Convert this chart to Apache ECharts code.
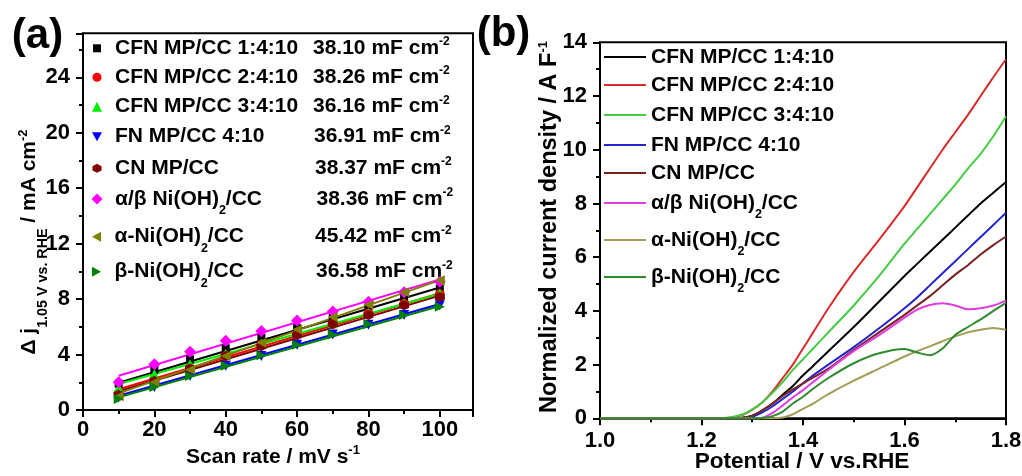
<!DOCTYPE html>
<html lang="en" style="height: 100%">
<head>
<meta charset="utf-8">
<title>Cdl fits and normalized LSV curves</title>
</head>
<body style="height: 100%; margin: 0; background: #fff">
<div id="container" style="width: 1022px; height: 476px"></div>

<script type="text/javascript" src="https://cdn.jsdelivr.net/npm/echarts@6/dist/echarts.min.js"></script>

<script type="text/javascript">

var FONT = '"Liberation Sans", Arial, sans-serif';

// ---- data ----
var sampleNames = ['CFN MP/CC 1:4:10', 'CFN MP/CC 2:4:10', 'CFN MP/CC 3:4:10', 'FN MP/CC 4:10',
    'CN MP/CC', 'α/β Ni(OH)2/CC', 'α-Ni(OH)2/CC', 'β-Ni(OH)2/CC'];
var capacitance = ['38.10', '38.26', '36.16', '36.91', '38.37', '38.36', '45.42', '36.58'];

// panel (a): delta j at 1.05 V vs scan rate
var scanRate = [10, 20, 30, 40, 50, 60, 70, 80, 90, 100];
var djCFN1 = [1.9, 2.9, 3.65, 4.45, 5.2, 5.9, 6.65, 7.4, 8.1, 8.75];
var djCFN2 = [1.2, 2.2, 3.0, 3.9, 4.7, 5.45, 6.2, 6.95, 7.65, 8.35];
var djCFN3 = [1.6, 2.6, 3.3, 4.05, 4.8, 5.55, 6.25, 7.0, 7.7, 8.4];
var djFN = [0.9, 1.65, 2.45, 3.2, 3.9, 4.7, 5.45, 6.15, 6.85, 7.55];
var djCN = [1.1, 2.1, 3.0, 3.9, 4.6, 5.4, 6.2, 6.85, 7.55, 8.15];
var djAB = [2.0, 3.3, 4.2, 5.0, 5.7, 6.45, 7.1, 7.8, 8.5, 9.25];
var djA = [1.0, 2.0, 2.9, 3.9, 4.85, 5.8, 6.7, 7.6, 8.5, 9.35];
var djB = [0.8, 1.65, 2.45, 3.2, 3.95, 4.7, 5.45, 6.2, 6.85, 7.45];
// linear fit read at 10 and 100 mV/s
var fitAt10 = [1.97, 1.5, 1.87, 1.03, 1.35, 2.47, 1.2, 0.91];
var fitAt100 = [8.84, 8.42, 8.38, 7.64, 8.25, 9.42, 9.37, 7.5];

// panel (b): normalized current density vs potential
var potential = [1.0, 1.1, 1.2, 1.25, 1.28, 1.30, 1.32, 1.34, 1.36, 1.38, 1.40, 1.42,
    1.45, 1.50, 1.55, 1.60, 1.625, 1.65, 1.675, 1.70, 1.725, 1.75, 1.775, 1.80];
var jCFN1 = [0, 0, 0, 0, 0.02, 0.1, 0.3, 0.55, 0.88, 1.2, 1.6, 1.95, 2.5, 3.4, 4.35, 5.3, 5.75, 6.2, 6.65, 7.1, 7.55, 8.0, 8.4, 8.8];
var jCFN2 = [0, 0, 0, 0.01, 0.12, 0.32, 0.6, 1.0, 1.5, 2.0, 2.6, 3.2, 4.1, 5.45, 6.65, 7.9, 8.6, 9.3, 10.0, 10.65, 11.3, 12.0, 12.7, 13.37];
var jCFN3 = [0, 0, 0, 0.02, 0.14, 0.33, 0.6, 0.95, 1.35, 1.8, 2.2, 2.6, 3.2, 4.2, 5.3, 6.5, 7.05, 7.6, 8.15, 8.7, 9.3, 9.85, 10.5, 11.25];
var jFN = [0, 0, 0, 0, 0.01, 0.06, 0.22, 0.45, 0.72, 1.0, 1.3, 1.6, 2.0, 2.65, 3.35, 4.1, 4.5, 4.95, 5.4, 5.85, 6.3, 6.75, 7.2, 7.65];
var jCN = [0, 0, 0, 0, 0.02, 0.1, 0.3, 0.55, 0.83, 1.08, 1.3, 1.52, 1.85, 2.55, 3.2, 3.85, 4.2, 4.55, 4.95, 5.35, 5.7, 6.1, 6.45, 6.77];
var jAB = [0, 0, 0, 0, 0, 0, 0.02, 0.2, 0.48, 0.78, 1.05, 1.35, 1.8, 2.5, 3.1, 3.75, 4.05, 4.22, 4.28, 4.2, 4.06, 4.1, 4.2, 4.38];
var jA = [0, 0, 0, 0, 0, 0, 0, 0, 0.03, 0.15, 0.35, 0.55, 0.9, 1.4, 1.85, 2.3, 2.5, 2.68, 2.87, 3.05, 3.2, 3.3, 3.36, 3.3];
var jB = [0, 0, 0, 0, 0, 0, 0.01, 0.08, 0.25, 0.55, 0.8, 1.1, 1.5, 2.05, 2.42, 2.58, 2.45, 2.35, 2.6, 3.1, 3.4, 3.68, 4.0, 4.3];

var djAll = [djCFN1, djCFN2, djCFN3, djFN, djCN, djAB, djA, djB];
var jAll = [jCFN1, jCFN2, jCFN3, jFN, jCN, jAB, jA, jB];

// ---- styles ----
var markerColors = ['#000000', '#ff0000', '#00ee00', '#0000ff', '#800000', '#ff00ff', '#808000', '#008000'];
var lsvColors = ['#000000', '#d82c2c', '#44cc44', '#2424cc', '#7a2222', '#e03ce0', '#a39d58', '#2e8b2e'];
var markers = ['rect', 'circle', 'triangle', 'path://M0,0L10,0L5,9Z',
    'path://M5,0L10,2.6L10,7.4L5,10L0,7.4L0,2.6Z', 'diamond',
    'path://M9,0L9,10L0,5Z', 'path://M0,0L9,5L0,10Z'];
var markerSizes = [8, 10, 10, 10, 10, 12, 10, 10];
var legendIconSizes = [8, 9, 10, 10, 9, 11, 10, 10];
var rowsA = [48.3, 77.3, 106.7, 136.7, 168.3, 199, 236.7, 271.7];
var capX = [313, 313, 313, 314, 315, 316.5, 315, 316];
var rowsB = [57, 85, 115, 145, 173, 203, 240, 277];

var dom = document.getElementById('container');
var myChart = echarts.init(dom, null, { width: 1022, height: 476 });

function subName(name) {
    return name.replace(')2', '){s|2}');
}

function legendTextStyle(size) {
    return {
        fontFamily: FONT, fontWeight: 'bold', fontSize: size, color: '#000', lineHeight: 26,
        rich: {
            s: { fontFamily: FONT, fontWeight: 'bold', fontSize: 12.5, color: '#000', padding: [24, 0, 0, 0] },
            g: { width: 1 }
        }
    };
}

function titleText(x, y, text, size, rot) {
    return {
        type: 'text', x: x, y: y, rotation: rot || 0, silent: true,
        style: {
            text: text, fill: '#000', fontFamily: FONT, fontWeight: 'bold', fontSize: size,
            lineHeight: 30, align: 'center', verticalAlign: 'middle',
            rich: {
                m: { fill: '#000', fontFamily: FONT, fontWeight: 'bold', fontSize: size },
                s: { fill: '#000', fontFamily: FONT, fontWeight: 'bold', fontSize: 14.3, padding: [28, 0, 0, 0] },
                p: { fill: '#000', fontFamily: FONT, fontWeight: 'bold', fontSize: 13, padding: [0, 0, 13, 0] }
            }
        }
    };
}

function axisCommon(fontSize, margin) {
    return {
        axisLine: { show: true, onZero: false, lineStyle: { color: '#000', width: 2 } },
        axisTick: { show: true, length: 7, lineStyle: { color: '#000', width: 2 } },
        minorTick: { show: true, splitNumber: 2, length: 4, lineStyle: { color: '#000', width: 2 } },
        splitLine: { show: false },
        minorSplitLine: { show: false },
        axisLabel: { fontFamily: FONT, fontWeight: 'bold', fontSize: fontSize, color: '#000', margin: margin }
    };
}

var xA = Object.assign(axisCommon(22, 9), { gridIndex: 0, type: 'value', min: 0, max: 109.3, interval: 20 });
xA.axisLabel.formatter = function (v) { return v % 20 === 0 ? String(v) : ''; };
var yA = Object.assign(axisCommon(22, 13), { gridIndex: 0, type: 'value', min: 0, max: 27.17, interval: 4 });
yA.axisLabel.formatter = function (v) { return v % 4 === 0 ? String(v) : ''; };
var xB = Object.assign(axisCommon(22, 12), { gridIndex: 1, type: 'value', min: 1.0, max: 1.8, interval: 0.2 });
xB.axisLabel.formatter = function (v) { return v.toFixed(1); };
var yB = Object.assign(axisCommon(22, 13), { gridIndex: 1, type: 'value', min: 0, max: 14, interval: 2 });

var series = [];
var legends = [];
var graphics = [];

sampleNames.forEach(function (name, i) {
    series.push({
        name: 'fit ' + name, type: 'line', xAxisIndex: 0, yAxisIndex: 0,
        data: [[scanRate[0], fitAt10[i]], [scanRate[scanRate.length - 1], fitAt100[i]]],
        symbol: 'none', z: 2, silent: true,
        lineStyle: { color: markerColors[i], width: 2 }
    });
});
sampleNames.forEach(function (name, i) {
    series.push({
        name: name, type: 'scatter', xAxisIndex: 0, yAxisIndex: 0,
        data: scanRate.map(function (x, k) { return [x, djAll[i][k]]; }),
        symbol: markers[i], symbolSize: markerSizes[i], z: 3,
        itemStyle: { color: markerColors[i], opacity: 1 }
    });
    series.push({
        name: 'LSV ' + name, type: 'line', xAxisIndex: 1, yAxisIndex: 1,
        data: potential.map(function (v, k) { return [v, jAll[i][k]]; }),
        symbol: 'none', smooth: 0.25, clip: false, z: 3,
        lineStyle: { color: lsvColors[i], width: 2 },
        itemStyle: { color: lsvColors[i] }
    });

    // square icon box so markers keep their shape; the empty token pushes the text right
    var s = legendIconSizes[i];
    legends.push({
        data: [name], left: 97 - s / 2, top: rowsA[i] - 13, padding: 0, orient: 'horizontal',
        itemWidth: s, itemHeight: s, selectedMode: false, symbolKeepAspect: true,
        textStyle: legendTextStyle(21),
        formatter: function (n) { return '{g|}' + subName(n); }
    });
    legends[legends.length - 1].textStyle.rich.g.width = 115 - (97 + s / 2 + 5);
    legends.push({
        data: ['LSV ' + name], left: 604, top: rowsB[i] - 13, padding: 0, orient: 'horizontal',
        icon: 'rect', itemWidth: 42, itemHeight: 2, selectedMode: false,
        textStyle: legendTextStyle(21),
        formatter: function (n) { return subName(n.slice(4)); }
    });

    graphics.push({
        type: 'text', x: capX[i], y: rowsA[i], silent: true,
        style: {
            text: '{m|' + capacitance[i] + ' mF cm}{p|-2}', fill: '#000',
            fontFamily: FONT, fontWeight: 'bold', fontSize: 21, lineHeight: 26,
            align: 'left', verticalAlign: 'middle',
            rich: {
                m: { fill: '#000', fontFamily: FONT, fontWeight: 'bold', fontSize: 21 },
                p: { fill: '#000', fontFamily: FONT, fontWeight: 'bold', fontSize: 12, padding: [0, 0, 13, 0] }
            }
        }
    });
});

graphics.push(titleText(37.5, 36.5, '(a)', 42));
graphics.push(titleText(503.5, 34, '(b)', 42));
graphics.push(titleText(29.5, 242, '{m|Δ j}{s|1.05 V vs. RHE}{m| / mA cm}{p|-2}', 21, Math.PI / 2));
graphics.push(titleText(273, 457, '{m|Scan rate / mV s}{p|-1}', 21));
graphics.push(titleText(550, 227, '{m|Normalized current density / A F}{p|-1}', 23.5, Math.PI / 2));
graphics.push(titleText(802, 462, 'Potential / V vs.RHE', 22.6));

option = {
    backgroundColor: '#fff',
    animation: false,
    grid: [
        { left: 83, top: 33.3, width: 390, height: 376.7, show: true, borderColor: '#000', borderWidth: 2, outerBoundsMode: 'none' },
        { left: 600, top: 42.3, width: 406, height: 376, show: true, borderColor: '#000', borderWidth: 2, outerBoundsMode: 'none' }
    ],
    xAxis: [xA, xB],
    yAxis: [yA, yB],
    legend: legends,
    series: series,
    graphic: graphics
};

if (option && typeof option === 'object') {
    myChart.setOption(option);
}

window.addEventListener('resize', myChart.resize);
</script>
</body>
</html>
